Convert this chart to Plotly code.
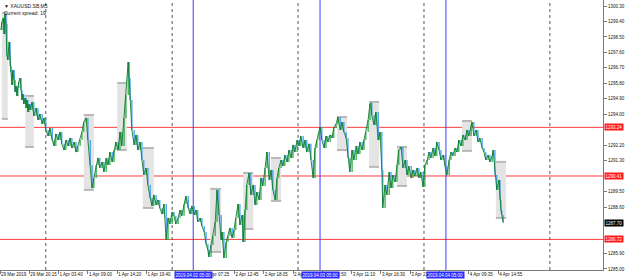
import plotly.graph_objects as go

# ---- data ----
bars = [2,4,7,9,11,13,15,17,20,22,24,26,28,31,33,35,37,39,41,44,46,48,50,52,55,57,59,61,63,66,70,74,79,83,87,92,96,100,
        105,109,114,118,122,127,131,135,140,144,149,153,157,162,166,170,175,179,183,188,192,197,201,205,210,214,218,223,227,232,236,240,245,249,253,258,262,266,271,275,280,282,284,288,293,297,301,306,310,314,319,323,328,332,336,341,345,
        349,354,358,363,367,371,376,380,384,389,393,397,402,406,411,415,419,424,428,432,437,441,446,450,454,456,461,465,470,474,478,483,485,489,494,498,502,507,511,515,520,524,529,531,535,539,544,548,553,557,561,566,570,574,579,583,588,592,596,601,605,609,614,618,622,627,631,636,640,644,649,653,657,662,666,670,675,679,684,688,692,697,699,703,708,712,716,721,725,729,734,738,743,747,751,756,760,764,769,773,778,782,786,791,795,799,804,808,810,
        812,817,821,826,830,834,836,841,845,850,854,858,863,867,871,876,880,885,889,893,898,902,906,911,915,919,924,928,933,937,941,946,950,954,959,963,968,972,976,981,985,989,994,998,1002,1007,1011,1016,1020,1024,1029,1031,1035,1040,1044,1048,1053,1057,1061,1066,1070,1075,1077,1081,1085,1090,1092,1094,1096,1099]

closes = [1298.90,1299.37,1299.60,1298.67,1299.84,1299.25,1297.45,1297.16,1298.21,1296.81,1296.46,1295.71,1296.58,1296.00,1295.30,1295.65,1295.07,1295.53,1295.88,1296.11,1295.41,1294.83,1295.18,1294.60,1294.95,1294.37,1294.83,1294.13,1294.60,1294.25,1294.72,1293.90,1294.37,1293.67,1294.02,1293.44,1293.79,1293.09,
          1292.74,1293.20,1292.50,1292.16,1292.86,1292.50,1292.97,1292.28,1291.92,1292.50,1292.16,1292.62,1292.04,1292.39,1291.80,1292.16,1292.50,1292.97,1293.55,1293.79,1292.50,1291.05,1289.71,1290.30,1291.05,1291.46,1290.88,1291.23,1290.64,1291.46,1291.05,1291.80,1291.23,1291.92,1292.39,1291.92,1292.97,1292.16,1293.79,1295.12,1297.04,1296.11,1294.83,1293.09,1292.22,1292.80,1291.92,1292.39,1291.34,1290.47,1290.88,1289.89,1289.13,1288.67,1289.31,1288.72,1289.02,
          1288.55,1288.20,1288.78,1286.69,1287.97,1287.62,1288.32,1288.09,1287.62,1287.97,1288.43,1288.09,1288.78,1289.25,1288.55,1288.20,1288.67,1288.14,1288.43,1287.74,1287.97,1287.50,1287.15,1286.46,1286.11,1285.70,1286.40,1286.92,1287.74,1289.60,1288.14,1286.69,1287.15,1285.64,1286.57,1286.92,1287.39,1286.81,1287.27,1287.97,1288.78,1287.56,1288.14,1286.57,1288.43,1289.89,1290.59,1289.31,1289.89,1288.72,1289.48,1289.02,1290.30,1289.83,1290.88,1291.80,1290.18,1290.76,1289.60,1289.02,1290.30,1290.88,1291.34,1290.99,1291.63,1291.23,1291.92,1291.46,1292.22,1291.80,1292.50,1292.16,1292.74,1292.04,1292.50,1291.80,1292.28,1291.34,1290.30,1292.04,1292.50,1292.97,1293.26,1292.50,1292.04,1292.74,1292.39,1292.80,1292.62,1293.20,1293.44,1293.84,1293.09,1293.55,1292.97,1292.62,1291.46,1290.64,1291.92,1291.34,1292.16,1291.69,1292.39,1291.92,1292.50,1292.97,1293.67,1294.60,1294.66,
          1293.96,1293.38,1294.13,1292.50,1292.97,1290.76,1288.55,1289.89,1289.31,1290.64,1289.71,1290.47,1290.06,1291.05,1291.92,1292.10,1290.88,1291.34,1290.47,1290.99,1290.30,1290.76,1290.41,1290.88,1290.30,1290.64,1289.77,1291.05,1291.34,1291.80,1291.46,1292.04,1291.58,1292.39,1291.92,1291.34,1291.63,1290.99,1290.47,1291.34,1291.80,1291.58,1292.04,1291.80,1292.50,1292.16,1292.80,1292.50,1293.09,1292.74,1293.38,1293.55,1292.74,1293.09,1292.39,1292.62,1292.04,1291.80,1291.34,1291.63,1291.23,1291.58,1291.92,1290.47,1289.60,1290.18,1289.02,1288.43,1288.14,1287.70]

# session boxes: start bar, end bar, high, low
box_start = [4, 55, 183, 256, 312, 459, 531, 592, 736, 806, 867, 1009, 1083]
box_end = [17, 74, 205, 277, 336, 483, 553, 614, 758, 828, 889, 1031, 1105]
box_high = [1299.90, 1295.07, 1293.96, 1295.82, 1292.04, 1289.66, 1290.59, 1291.46, 1293.84, 1294.72, 1292.10, 1293.61, 1291.23]
box_low = [1293.73, 1292.10, 1289.60, 1291.92, 1288.55, 1285.99, 1287.33, 1288.96, 1291.92, 1290.94, 1289.83, 1291.87, 1287.97]

level_prices = [1293.24, 1290.41, 1286.72]
level_labels = ["1293.24", "1290.41", "1286.72"]
current_price = 1287.70

day_sep_bars = [100, 376, 651, 926, 1201]
marker_bars = [422, 699, 974]
marker_labels = ["2019.04.02 05:00", "2019.04.03 05:00", "2019.04.04 05:00"]

# labels fully hidden behind the blue time markers are left blank
x_tick_bars = [0, 64, 128, 192, 256, 320, 384, 448, 512, 576, 640, 704, 768, 832, 896, 960, 1024, 1088]
x_tick_text = ["29 Mar 2019", "29 Mar 20:15", "1 Apr 03:40", "1 Apr 09:00", "1 Apr 14:20", "1 Apr 19:40",
               "", "2 Apr 07:25", "2 Apr 12:45", "2 Apr 18:05", "2 Apr 23:25", "3 Apr 05:50",
               "3 Apr 11:10", "3 Apr 16:30", "3 Apr 21:50", "", "4 Apr 09:35", "4 Apr 14:55"]

y_tick_vals = [1285.0, 1285.9, 1288.6, 1289.5, 1291.3, 1292.2, 1294.0, 1294.9, 1295.8, 1296.7, 1297.6, 1298.5, 1299.4, 1300.3]
y_tick_text = ["%.2f" % v for v in y_tick_vals]

FONT = "Liberation Sans"
AXC = "#7a7a7a"

opens = [closes[0]] + closes[:-1]
highs = [max(o, c) for o, c in zip(opens, closes)]
lows = [min(o, c) for o, c in zip(opens, closes)]

fig = go.Figure()
fig.add_trace(go.Scatter(x=bars, y=closes, mode="lines", line=dict(color="#0e7a2a", width=0.9),
                         showlegend=False, hoverinfo="skip"))
fig.add_trace(go.Ohlc(x=bars, open=opens, high=highs, low=lows, close=closes,
                      increasing=dict(line=dict(color="#25a83a", width=1.2)),
                      decreasing=dict(line=dict(color="#3296f5", width=1.2)),
                      tickwidth=0, showlegend=False, hoverinfo="skip"))

shapes = []
for s, e, h, l in zip(box_start, box_end, box_high, box_low):
    shapes.append(dict(type="rect", xref="x", yref="y", x0=s, x1=e, y0=l, y1=h,
                       fillcolor="#e4e4e4", line=dict(width=0), layer="below"))
    for v in (h, l):
        shapes.append(dict(type="line", xref="x", yref="y", x0=s, x1=e, y0=v, y1=v,
                           line=dict(color="#b8b8b8", width=2), layer="below"))
for p in level_prices:
    shapes.append(dict(type="line", xref="paper", yref="y", x0=0, x1=1, y0=p, y1=p,
                       line=dict(color="#ff3b3b", width=1), layer="below"))
for b in day_sep_bars:
    shapes.append(dict(type="line", xref="x", yref="paper", x0=b, x1=b, y0=0, y1=1,
                       line=dict(color="#555555", width=1, dash="dot"), layer="below"))
for b in marker_bars:
    shapes.append(dict(type="line", xref="x", yref="paper", x0=b, x1=b, y0=0, y1=1,
                       line=dict(color="#3a3aff", width=1), layer="below"))

annotations = []
for p, t in zip(level_prices, level_labels):
    annotations.append(dict(x=1, xref="paper", y=p, yref="y", text=t, showarrow=False,
                            xanchor="left", yanchor="middle", xshift=1,
                            bgcolor="#ff1a1a", borderpad=0.5,
                            font=dict(family=FONT, size=4.5, color="white")))
annotations.append(dict(x=1, xref="paper", y=current_price, yref="y", text="%.2f" % current_price,
                        showarrow=False, xanchor="left", yanchor="middle", xshift=1,
                        bgcolor="#000000", borderpad=0.5,
                        font=dict(family=FONT, size=4.5, color="white")))
for b, t in zip(marker_bars, marker_labels):
    annotations.append(dict(x=b, xref="x", y=0, yref="paper", text=t, showarrow=False,
                            xanchor="center", yanchor="top", yshift=-1,
                            bgcolor="#2a2aff", borderpad=0.5,
                            font=dict(family=FONT, size=4.5, color="white")))
annotations.append(dict(x=0, xref="paper", y=1, yref="paper", text="▼ XAUUSD.SB,M5", showarrow=False,
                        xanchor="left", yanchor="top", xshift=2, yshift=-1,
                        font=dict(family=FONT, size=5, color="#111111")))
annotations.append(dict(x=0, xref="paper", y=1, yref="paper", text="Current spread: 19", showarrow=False,
                        xanchor="left", yanchor="top", xshift=2, yshift=-8,
                        font=dict(family=FONT, size=5, color="#111111")))

fig.update_layout(
    width=625, height=280, autosize=False,
    margin=dict(l=0, r=22, t=0, b=10),
    paper_bgcolor="white", plot_bgcolor="white",
    font=dict(family=FONT, size=4.5, color="#111111"),
    shapes=shapes, annotations=annotations,
    xaxis=dict(range=[0, 1317], tickvals=x_tick_bars, ticktext=x_tick_text, tickangle=0,
               ticks="outside", ticklen=3, tickcolor=AXC, showline=True, linecolor=AXC, linewidth=1,
               ticklabelposition="outside right", showgrid=False, zeroline=False, automargin=False,
               rangeslider=dict(visible=False), tickfont=dict(size=4.5), fixedrange=True),
    yaxis=dict(range=[1284.94, 1300.65], side="right", tickvals=y_tick_vals, ticktext=y_tick_text,
               ticks="outside", ticklen=3, tickcolor=AXC, showline=True, linecolor=AXC, linewidth=1,
               showgrid=False, zeroline=False, automargin=False, tickfont=dict(size=4.5), fixedrange=True),
)

fig.write_html("out.html")
